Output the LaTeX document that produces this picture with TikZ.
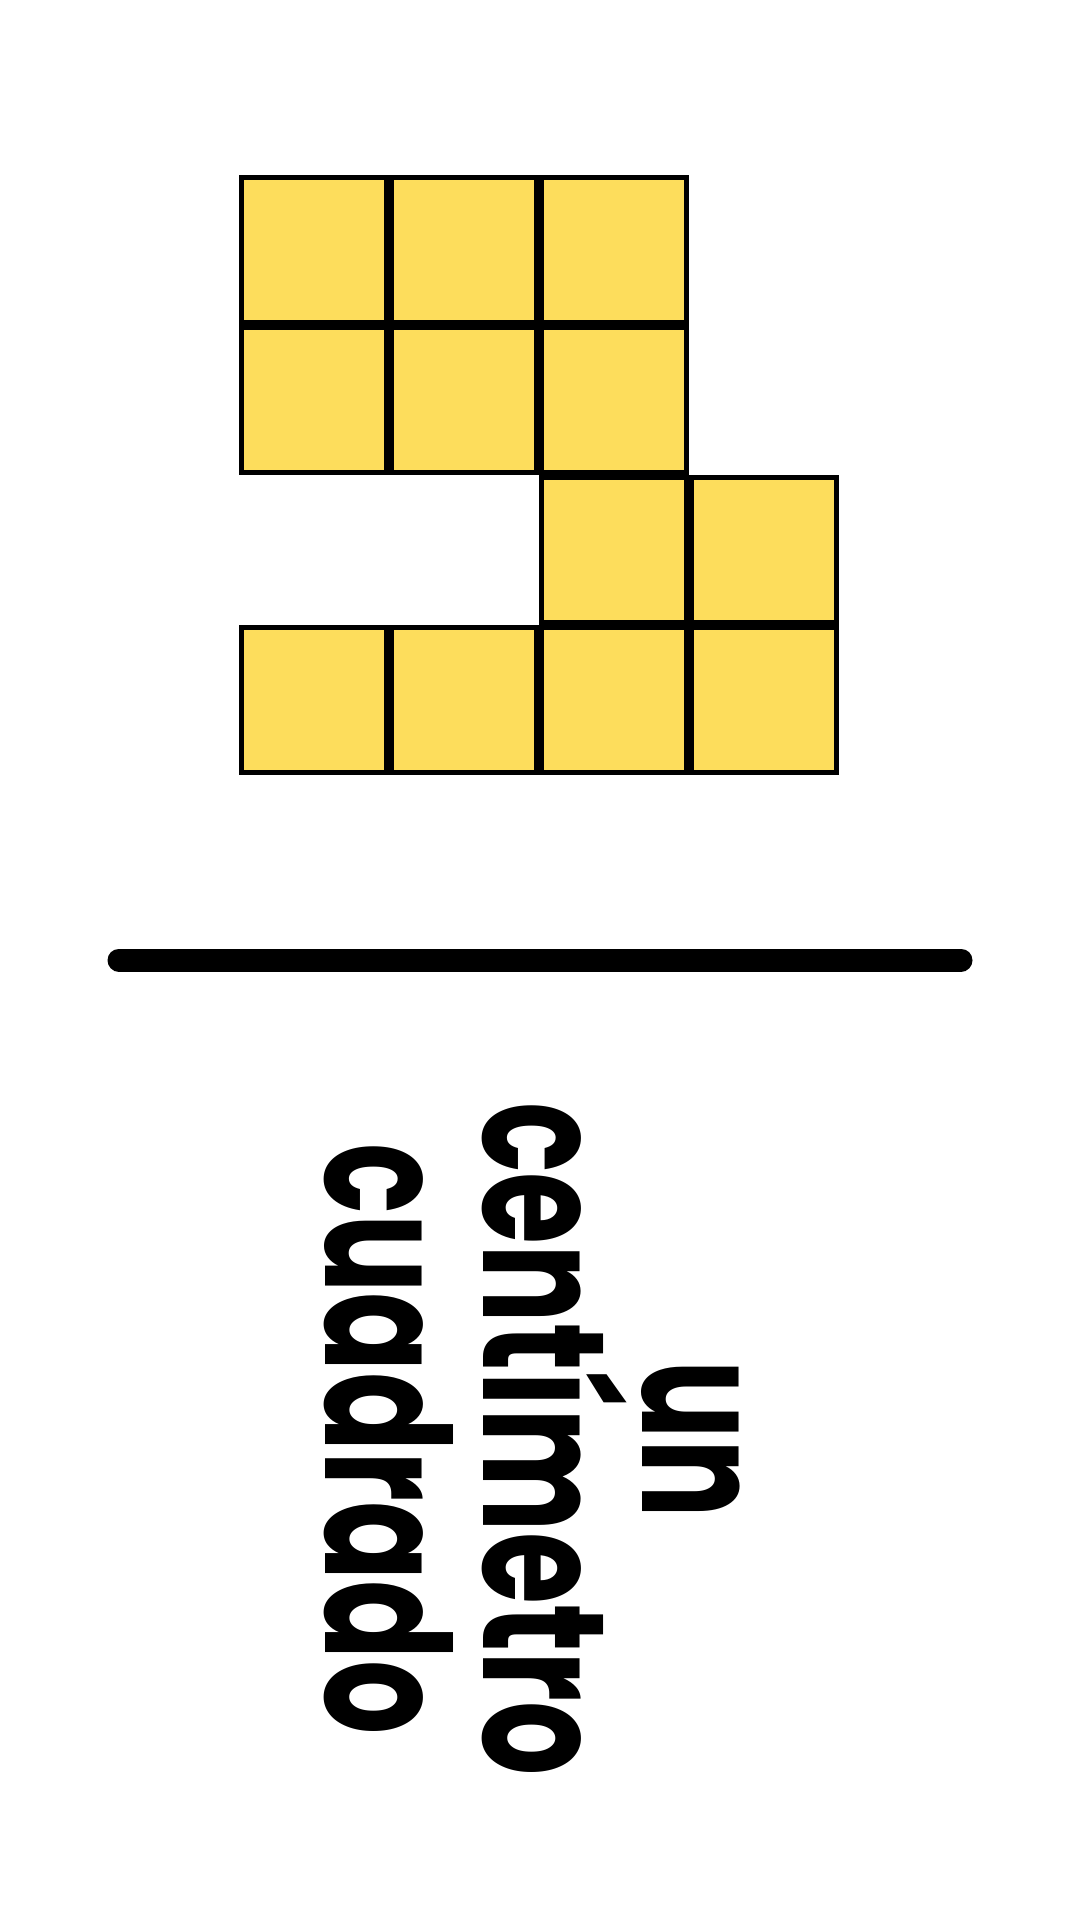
\documentclass[tikz,border=0pt]{standalone}
\usepackage{fontspec}
\setmainfont{Poppins}
\usepackage{tikz}
\definecolor{cellyellow}{HTML}{FDDD5C}

\begin{document}
\begin{tikzpicture}[x=1pt, y=-1pt,
	cell/.style={draw=black, fill=cellyellow, line width=5pt, minimum size=145pt, inner sep=0pt},
	word/.style={rotate=-90, xscale=0.675, anchor=base, font=\fontsize{173}{180}\selectfont\bfseries}]
	\useasboundingbox (0,0) rectangle (1080,1920);
	% the yellow unit squares, 150px each
	\foreach \c/\r in {1/1,2/1,3/1,1/2,2/2,3/2,3/3,4/3,1/4,2/4,3/4,4/4}
		\node[cell] (sq-\r-\c) at ({239+150*\c-75},{175+150*\r-75}) {};
	% rule
	\coordinate (ruleL) at (119,960);
	\coordinate (ruleR) at (961,960);
	\draw[line width=23pt, line cap=round] (ruleL) -- (ruleR);
	% label, turned clockwise
	\node[word] (un) at (642,1439) {un};
	\node[word] (centimetro) at (483,1439) {centímetro};
	\node[word] (cuadrado) at (325,1439) {cuadrado};
\end{tikzpicture}
\end{document}
